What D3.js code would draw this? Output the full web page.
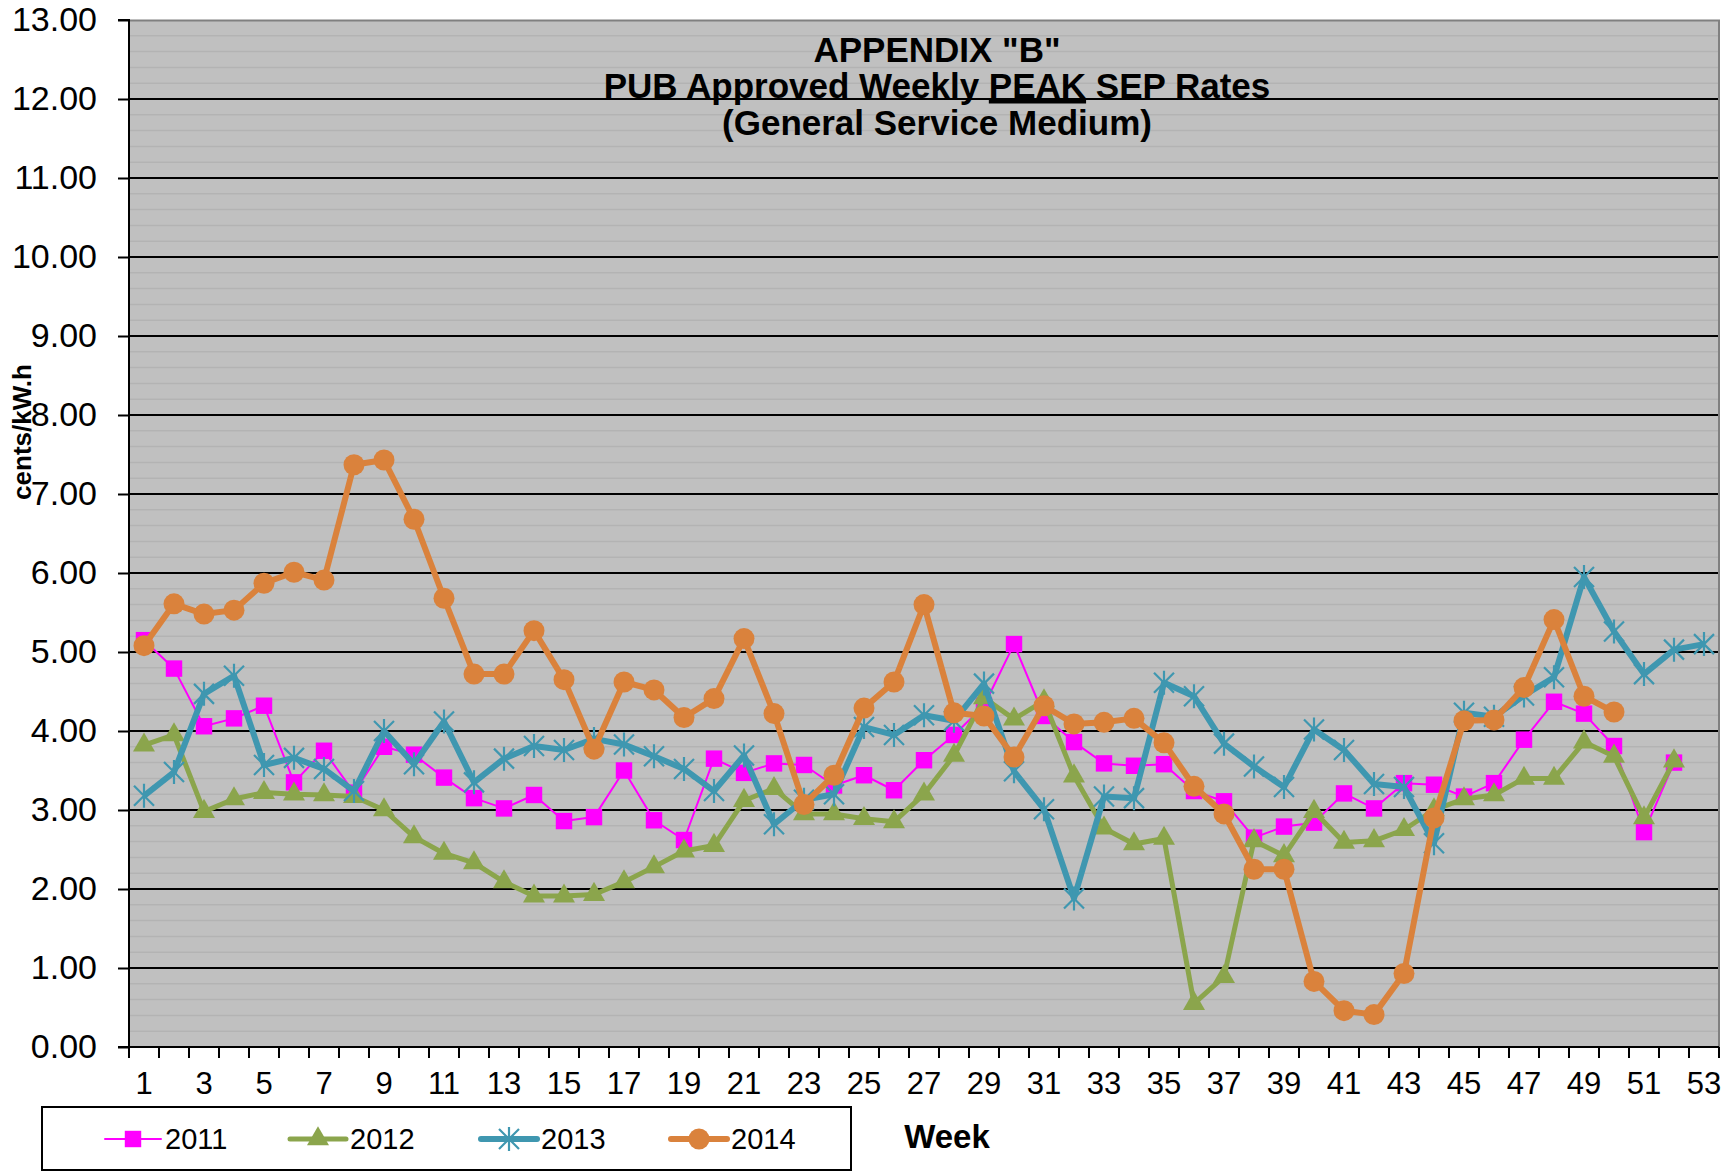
<!DOCTYPE html>
<html>
<head>
<meta charset="utf-8">
<script src="https://cdn.jsdelivr.net/npm/d3@7"></script>
<style>
  body { margin: 0; background: #fff; }
  svg { display: block; font-family: Arial, "Liberation Sans", sans-serif; }
</style>
</head>
<body>
<div id="chart-area"></div>
<script>
const weeks = [1, 2, 3, 4, 5, 6, 7, 8, 9, 10, 11, 12, 13, 14, 15, 16, 17, 18, 19, 20,
  21, 22, 23, 24, 25, 26, 27, 28, 29, 30, 31, 32, 33, 34, 35, 36, 37, 38, 39, 40,
  41, 42, 43, 44, 45, 46, 47, 48, 49, 50, 51, 52, 53];

const rates2011 = [5.15, 4.79, 4.06, 4.16, 4.32, 3.35, 3.75, 3.22, 3.80, 3.70,
  3.41, 3.15, 3.02, 3.19, 2.86, 2.91, 3.50, 2.87, 2.62, 3.65,
  3.47, 3.59, 3.57, 3.31, 3.44, 3.25, 3.63, 3.95, 4.32, 5.10,
  4.19, 3.86, 3.59, 3.56, 3.58, 3.24, 3.11, 2.65, 2.79, 2.84,
  3.21, 3.02, 3.34, 3.32, 3.17, 3.34, 3.89, 4.37, 4.22, 3.81,
  2.72, 3.60];

const rates2012 = [3.82, 3.95, 2.98, 3.14, 3.22, 3.20, 3.19, 3.17, 3.00, 2.66,
  2.45, 2.33, 2.09, 1.91, 1.91, 1.93, 2.09, 2.28, 2.48, 2.55,
  3.12, 3.27, 2.95, 2.95, 2.89, 2.85, 3.20, 3.69, 4.42, 4.15,
  4.38, 3.43, 2.77, 2.57, 2.64, 0.55, 0.89, 2.61, 2.42, 2.98,
  2.59, 2.61, 2.75, 3.00, 3.14, 3.19, 3.40, 3.40, 3.86, 3.68,
  2.90, 3.62];

const rates2013 = [3.18, 3.48, 4.47, 4.70, 3.57, 3.66, 3.52, 3.24, 4.00, 3.58,
  4.12, 3.35, 3.65, 3.81, 3.76, 3.90, 3.83, 3.68, 3.52, 3.24,
  3.69, 2.82, 3.13, 3.20, 4.05, 3.95, 4.20, 4.13, 4.60, 3.49,
  3.01, 1.88, 3.17, 3.15, 4.61, 4.44, 3.84, 3.55, 3.29, 4.02,
  3.76, 3.33, 3.29, 2.58, 4.23, 4.18, 4.45, 4.68, 5.95, 5.26,
  4.72, 5.03, 5.10];

const rates2014 = [5.08, 5.61, 5.48, 5.53, 5.87, 6.01, 5.91, 7.37, 7.43, 6.68,
  5.68, 4.72, 4.72, 5.27, 4.65, 3.77, 4.62, 4.52, 4.17, 4.41,
  5.17, 4.22, 3.07, 3.44, 4.29, 4.62, 5.60, 4.23, 4.19, 3.67,
  4.32, 4.09, 4.11, 4.16, 3.85, 3.30, 2.95, 2.25, 2.25, 0.83,
  0.46, 0.41, 0.93, 2.90, 4.13, 4.14, 4.55, 5.41, 4.44, 4.24];

const seriesNames = ["2011", "2012", "2013", "2014"];
const yTicks = [0, 1, 2, 3, 4, 5, 6, 7, 8, 9, 10, 11, 12, 13];
const titleLines = ["APPENDIX \"B\"", "PUB Approved Weekly PEAK SEP Rates", "(General Service Medium)"];

const chartSize = { width: 1733, height: 1172 };
const margin = { left: 129, right: 14, top: 20, bottom: 125 };

const styles = [
  { color: "#ff00ff", width: 2, marker: "square" },
  { color: "#8ba54c", width: 5, marker: "triangle" },
  { color: "#3f97b0", width: 6, marker: "star" },
  { color: "#da823c", width: 6, marker: "circle" }
];

const drawMarker = (sel, kind, color) => {
  if (kind === "square") {
    sel.append("path").attr("d", d3.symbol(d3.symbolSquare, 270)()).attr("fill", color);
  } else if (kind === "triangle") {
    sel.append("path").attr("d", d3.symbol(d3.symbolTriangle, 210)()).attr("fill", color);
  } else if (kind === "circle") {
    sel.append("circle").attr("r", 10.5).attr("fill", color);
  } else {
    const r = 10;
    sel.append("path")
      .attr("d", `M${-r},${-r}L${r},${r}M${-r},${r}L${r},${-r}M0,${-r * 1.2}L0,${r * 1.2}`)
      .attr("stroke", color).attr("stroke-width", 2.2).attr("fill", "none");
  }
};

const main = () => {
  const width = chartSize.width - margin.left - margin.right;
  const height = chartSize.height - margin.top - margin.bottom;

  const svg = d3.select("#chart-area").append("svg")
    .attr("width", chartSize.width)
    .attr("height", chartSize.height);

  const g = svg.append("g").attr("transform", `translate(${margin.left}, ${margin.top})`);

  const x = d3.scaleBand().domain(weeks).range([0, width]);
  const y = d3.scaleLinear().domain([0, 13]).range([height, 0]);

  // plot background
  g.append("rect").attr("width", width).attr("height", height).attr("fill", "#c0c0c0");

  // minor gridlines every 0.2
  g.append("g").selectAll("line")
    .data(d3.range(1, 65).filter(i => i % 5 !== 0).map(i => i / 5))
    .join("line")
    .attr("x1", 0).attr("x2", width)
    .attr("y1", d => y(d)).attr("y2", d => y(d))
    .attr("stroke", "#b3b3b3").attr("stroke-width", 1.5);

  // major gridlines
  g.append("g").selectAll("line")
    .data(yTicks.filter(d => d > 0 && d < 13))
    .join("line")
    .attr("x1", 0).attr("x2", width)
    .attr("y1", d => y(d)).attr("y2", d => y(d))
    .attr("stroke", "#000").attr("stroke-width", 2);

  // top and right border
  g.append("path")
    .attr("d", `M0,0.5H${width}V${height}`)
    .attr("fill", "none").attr("stroke", "#808080").attr("stroke-width", 2);

  // title
  const title = g.append("text")
    .attr("text-anchor", "middle")
    .attr("font-weight", "bold")
    .attr("font-size", 35)
    .attr("fill", "#000");
  title.append("tspan").attr("x", 808).attr("y", 42).text(titleLines[0]);
  const line2 = title.append("tspan").attr("x", 808).attr("y", 78);
  line2.append("tspan").text("PUB Approved Weekly ");
  line2.append("tspan").attr("text-decoration", "underline").text("PEAK");
  line2.append("tspan").text(" SEP Rates");
  title.append("tspan").attr("x", 808).attr("y", 115).text(titleLines[2]);

  // y axis
  const yAxis = d3.axisLeft(y).tickValues(yTicks).tickFormat(d3.format(".2f"))
    .tickSize(11).tickPadding(21);
  const yG = g.append("g").call(yAxis);
  yG.select(".domain").attr("stroke", "#000").attr("stroke-width", 2).attr("d", `M-11,${height}H0V0H-11`);
  yG.selectAll(".tick line").attr("stroke", "#000").attr("stroke-width", 2);
  yG.selectAll("text").attr("font-size", 34).attr("fill", "#000")
    .attr("font-family", "Arial, 'Liberation Sans', sans-serif");

  // x axis
  const xAxis = d3.axisBottom(x).tickValues(weeks.filter(w => w % 2 === 1))
    .tickSize(0).tickPadding(25);
  const xG = g.append("g").attr("transform", `translate(0, ${height})`).call(xAxis);
  xG.select(".domain").attr("stroke", "#000").attr("stroke-width", 2).attr("d", `M0,0H${width}`);
  xG.selectAll("text").attr("font-size", 31).attr("fill", "#000")
    .attr("font-family", "Arial, 'Liberation Sans', sans-serif");
  xG.append("g").selectAll("line")
    .data(weeks.map(w => x(w)).concat([width]))
    .join("line")
    .attr("x1", d => d).attr("x2", d => d)
    .attr("y1", 0).attr("y2", 11)
    .attr("stroke", "#000").attr("stroke-width", 2);

  // series
  const allSeries = [rates2011, rates2012, rates2013, rates2014];
  const cx = (d, i) => x(weeks[i]) + x.bandwidth() / 2;
  allSeries.forEach((values, k) => {
    const st = styles[k];
    const line = d3.line().x((d, i) => cx(d, i)).y(d => y(d));
    g.append("path").datum(values)
      .attr("d", line)
      .attr("fill", "none")
      .attr("stroke", st.color)
      .attr("stroke-width", st.width)
      .attr("stroke-linejoin", "round");
    g.append("g").selectAll("g")
      .data(values)
      .join("g")
      .attr("transform", (d, i) => `translate(${cx(d, i)}, ${y(d)})`)
      .each(function () { drawMarker(d3.select(this), st.marker, st.color); });
  });

  // axis titles
  svg.append("text")
    .attr("transform", "translate(31, 432) rotate(-90)")
    .attr("text-anchor", "middle")
    .attr("font-weight", "bold").attr("font-size", 26)
    .text("cents/kW.h");

  svg.append("text")
    .attr("x", 947).attr("y", 1148)
    .attr("text-anchor", "middle")
    .attr("font-weight", "bold").attr("font-size", 33)
    .text("Week");

  // legend
  const legend = svg.append("g");
  legend.append("rect")
    .attr("x", 42).attr("y", 1107).attr("width", 809).attr("height", 63)
    .attr("fill", "#fff").attr("stroke", "#000").attr("stroke-width", 2);
  const legendX = [105, 290, 481, 671];
  seriesNames.forEach((name, k) => {
    const st = styles[k];
    const item = legend.append("g").attr("transform", `translate(${legendX[k]}, 1139)`);
    item.append("line").attr("x1", 0).attr("x2", 56).attr("y1", 0).attr("y2", 0)
      .attr("stroke", st.color).attr("stroke-width", st.width).attr("stroke-linecap", "round");
    drawMarker(item.append("g").attr("transform", "translate(28, 0)"), st.marker, st.color);
    item.append("text").attr("x", 60).attr("y", 10).attr("font-size", 29).text(name);
  });
};

window.onload = main;
</script>
</body>
</html>
